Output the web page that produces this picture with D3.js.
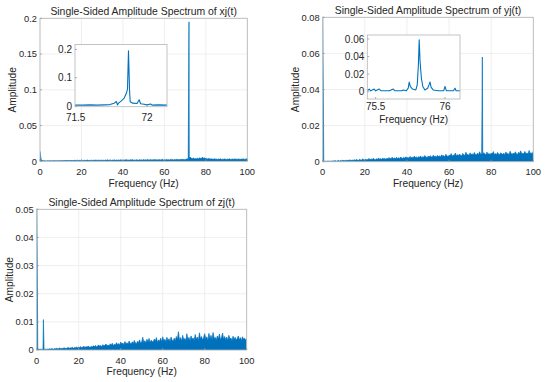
<!DOCTYPE html>
<html>
<head>
<meta charset="utf-8">
<script src="https://cdn.jsdelivr.net/npm/d3@7"></script>
<style>
  body { margin: 0; background: #fff; }
  svg { font-family: "Liberation Sans", Arial, sans-serif; }
</style>
</head>
<body>
<script>
// Spectrum bins are 0.5 Hz apart, first noise value sits at 0.5 Hz
var freqStep = 0.5;
var xTicks = [0, 20, 40, 60, 80, 100];

// xj(t)
var xjDC = 0.014;
var xjPeakFreq = [71.87];
var xjPeakAmp = [0.195];
var xjNoise = [
  .003,.0012,.0008,.0006,.0007,.0005,.0008,.0006,.0007,.0009,
  .0006,.0008,.0007,.0010,.0006,.0008,.0009,.0007,.0011,.0008,
  .0009,.0012,.0008,.0010,.0013,.0009,.0011,.0008,.0012,.0010,
  .0011,.0009,.0014,.0010,.0012,.0016,.0009,.0013,.0011,.0015,
  .0012,.0010,.0015,.0011,.0013,.0018,.0010,.0014,.0012,.0016,
  .0011,.0015,.0013,.0019,.0012,.0014,.0017,.0011,.0016,.0013,
  .0015,.0012,.0018,.0014,.0020,.0013,.0016,.0019,.0012,.0017,
  .0014,.0021,.0013,.0017,.0015,.0019,.0014,.0022,.0016,.0013,
  .0018,.0015,.0024,.0016,.0019,.0014,.0021,.0017,.0025,.0015,
  .0019,.0016,.0022,.0018,.0015,.0023,.0017,.0020,.0016,.0024,
  .0017,.0021,.0018,.0026,.0016,.0020,.0023,.0017,.0022,.0019,
  .0025,.0018,.0021,.0017,.0024,.0019,.0022,.0028,.0018,.0021,
  .0019,.0026,.0020,.0023,.0018,.0027,.0021,.0024,.0019,.0025,
  .0022,.0029,.0020,.0024,.0021,.0027,.0023,.0030,.0022,.0026,
  .0028,.0034,.0030,.0045,.0060,.0041,.0035,.0048,.0033,.0039,
  .0036,.0044,.0032,.0050,.0038,.0046,.0055,.0040,.0048,.0035,
  .0038,.0030,.0042,.0028,.0035,.0031,.0027,.0036,.0029,.0033,
  .0026,.0032,.0028,.0035,.0025,.0030,.0027,.0033,.0029,.0024,
  .0031,.0027,.0034,.0025,.0029,.0032,.0026,.0035,.0028,.0030,
  .0027,.0033,.0025,.0031,.0028,.0036,.0026,.0030,.0034,.0029
];
var xjZoomFreq = [71.495,71.55,71.60,71.65,71.70,71.74,71.77,71.785,71.793,71.80,71.82,71.84,71.855,71.863,71.870,71.877,71.882,71.90,71.93,71.945,71.955,71.98,72.00,72.025,72.035,72.08,72.14];
var xjZoomAmp  = [.003,.003,.004,.003,.004,.005,.010,.016,.004,.010,.018,.028,.045,.060,.195,.060,.015,.010,.009,.022,.008,.006,.004,.007,.003,.004,.003];

// yj(t)
var yjDC = 0.085;
var yjPeakFreq = [75.81];
var yjPeakAmp = [0.058];
var yjNoise = [
  .0003,.0002,.0003,.0002,.0004,.0003,.0002,.0004,.0003,.0005,
  .0004,.0006,.0003,.0005,.0007,.0004,.0006,.0005,.0008,.0006,
  .0007,.0005,.0009,.0006,.0008,.0010,.0006,.0009,.0007,.0011,
  .0008,.0012,.0009,.0007,.0013,.0010,.0008,.0016,.0011,.0009,
  .0014,.0010,.0012,.0018,.0011,.0015,.0012,.0019,.0013,.0011,
  .0016,.0012,.0021,.0014,.0017,.0013,.0020,.0015,.0018,.0014,
  .0019,.0015,.0023,.0016,.0018,.0025,.0017,.0021,.0016,.0024,
  .0018,.0022,.0017,.0026,.0020,.0018,.0024,.0019,.0027,.0021,
  .0023,.0019,.0029,.0022,.0025,.0020,.0031,.0023,.0026,.0021,
  .0028,.0024,.0032,.0022,.0027,.0025,.0034,.0026,.0023,.0030,
  .0026,.0033,.0028,.0024,.0036,.0027,.0031,.0025,.0035,.0029,
  .0032,.0027,.0038,.0030,.0034,.0028,.0041,.0031,.0029,.0036,
  .0033,.0045,.0030,.0037,.0034,.0048,.0032,.0039,.0035,.0042,
  .0036,.0031,.0046,.0038,.0034,.0052,.0037,.0041,.0035,.0049,
  .0038,.0044,.0036,.0051,.0040,.0037,.0047,.0039,.0055,.0041,
  .0045,.0038,.0050,.0042,.0039,.0053,.0041,.0046,.0038,.0048,
  .0042,.0056,.0040,.0045,.0039,.0051,.0043,.0038,.0049,.0044,
  .0041,.0047,.0039,.0054,.0043,.0046,.0040,.0058,.0044,.0041,
  .0048,.0042,.0055,.0043,.0040,.0052,.0045,.0060,.0042,.0047,
  .0044,.0057,.0043,.0049,.0041,.0062,.0045,.0050,.0043,.0058
];
var yjZoomFreq = [75.44,75.454,75.465,75.49,75.50,75.526,75.54,75.60,75.627,75.64,75.69,75.70,75.72,75.735,75.742,75.75,75.765,75.79,75.80,75.808,75.814,75.82,75.83,75.84,75.855,75.875,75.885,75.892,75.90,75.915,75.95,75.99,76.0,76.01,76.06,76.072,76.08,76.108];
var yjZoomAmp  = [.001,.003,.001,.003,.001,.003,.001,.001,.003,.001,.001,.002,.001,.004,.011,.006,.003,.002,.008,.030,.059,.035,.015,.006,.002,.004,.008,.011,.005,.002,.001,.001,.006,.001,.001,.004,.001,.001];

// zj(t)
var zjDC = 0.06;
var zjPeakFreq = [3.2];
var zjPeakAmp = [0.0108];
var zjNoise = [
  .0005,.0003,.0002,.0003,.0002,.0003,.0002,.0003,.0002,.0003,
  .0003,.0004,.0003,.0005,.0004,.0003,.0005,.0004,.0006,.0004,
  .0005,.0007,.0004,.0006,.0005,.0008,.0006,.0005,.0007,.0009,
  .0006,.0008,.0007,.0010,.0006,.0009,.0008,.0011,.0007,.0010,
  .0009,.0012,.0008,.0011,.0013,.0009,.0012,.0010,.0014,.0011,
  .0010,.0013,.0011,.0015,.0012,.0016,.0011,.0014,.0018,.0013,
  .0016,.0012,.0019,.0014,.0017,.0021,.0015,.0018,.0014,.0022,
  .0017,.0024,.0016,.0020,.0018,.0026,.0019,.0023,.0017,.0028,
  .0021,.0025,.0019,.0030,.0022,.0026,.0020,.0032,.0024,.0021,
  .0029,.0023,.0034,.0025,.0022,.0031,.0026,.0036,.0024,.0028,
  .0045,.0027,.0033,.0025,.0038,.0029,.0041,.0026,.0035,.0030,
  .0028,.0039,.0031,.0044,.0027,.0036,.0030,.0042,.0029,.0047,
  .0032,.0038,.0030,.0045,.0033,.0040,.0029,.0046,.0035,.0031,
  .0042,.0033,.0048,.0036,.0065,.0034,.0044,.0031,.0052,.0037,
  .0041,.0033,.0058,.0036,.0045,.0032,.0050,.0038,.0043,.0034,
  .0055,.0037,.0046,.0033,.0061,.0039,.0048,.0035,.0044,.0058,
  .0038,.0047,.0034,.0059,.0040,.0052,.0036,.0062,.0041,.0045,
  .0035,.0050,.0039,.0057,.0037,.0044,.0060,.0038,.0048,.0036,
  .0046,.0034,.0052,.0039,.0043,.0033,.0049,.0037,.0045,.0035,
  .0041,.0050,.0036,.0044,.0033,.0047,.0038,.0042,.0035,.0040
];

var lineColor = "#0072BD";
var textColor = "#262626";

var svg = d3.select("body").append("svg")
  .attr("width", 550)
  .attr("height", 382);

svg.append("rect").attr("width", 550).attr("height", 382).attr("fill", "#fff");

function buildSeries(dc, noise, peakF, peakA) {
  var pts = [{f: 0, a: dc}];
  noise.forEach(function(a, i) { pts.push({f: (i + 1) * freqStep, a: a}); });
  peakF.forEach(function(f, i) { pts.push({f: f, a: peakA[i]}); });
  pts.sort(function(p, q) { return p.f - q.f; });
  return pts;
}

function fmt(d) { return String(+d.toFixed(4)); }

var clipCount = 0;

// Draws one axes box: grid, data, ticks, labels
function drawAxes(g, cfg) {
  var x = d3.scaleLinear().domain(cfg.xDomain).range([cfg.left, cfg.right]);
  var y = d3.scaleLinear().domain(cfg.yDomain).range([cfg.bottom, cfg.top]);
  var w = cfg.right - cfg.left, h = cfg.bottom - cfg.top;

  g.append("rect")
    .attr("x", cfg.left).attr("y", cfg.top)
    .attr("width", w).attr("height", h)
    .attr("fill", "#fff");

  if (cfg.grid) {
    g.append("g").selectAll("line").data(cfg.xTicks).enter().append("line")
      .attr("x1", d => x(d)).attr("x2", d => x(d))
      .attr("y1", cfg.top).attr("y2", cfg.bottom)
      .attr("stroke", "#ebebeb").attr("stroke-width", 0.8);
    g.append("g").selectAll("line").data(cfg.yTicks).enter().append("line")
      .attr("x1", cfg.left).attr("x2", cfg.right)
      .attr("y1", d => y(d)).attr("y2", d => y(d))
      .attr("stroke", "#ebebeb").attr("stroke-width", 0.8);
  }

  var clipId = "clip" + (clipCount++);
  g.append("clipPath").attr("id", clipId).append("rect")
    .attr("x", cfg.left).attr("y", cfg.top - 0.5)
    .attr("width", w).attr("height", h + 0.5);

  var plot = g.append("g").attr("clip-path", "url(#" + clipId + ")");
  if (cfg.fill) {
    var area = d3.area().x(d => x(d.f)).y0(y(0)).y1(d => y(d.a));
    plot.append("path").datum(cfg.data)
      .attr("d", area)
      .attr("fill", lineColor);
  }
  var line = d3.line().x(d => x(d.f)).y(d => y(d.a));
  plot.append("path").datum(cfg.data)
    .attr("d", line)
    .attr("fill", "none")
    .attr("stroke", lineColor)
    .attr("stroke-width", cfg.lineWidth)
    .attr("stroke-linejoin", "round");

  // box
  g.append("rect")
    .attr("x", cfg.left).attr("y", cfg.top)
    .attr("width", w).attr("height", h)
    .attr("fill", "none")
    .attr("stroke", "#b5b5b5").attr("stroke-width", 0.8);

  // inward ticks
  g.append("g").selectAll("line").data(cfg.xTicks).enter().append("line")
    .attr("x1", d => x(d)).attr("x2", d => x(d))
    .attr("y1", cfg.bottom).attr("y2", cfg.bottom - 2)
    .attr("stroke", "#999").attr("stroke-width", 0.8);
  g.append("g").selectAll("line").data(cfg.yTicks).enter().append("line")
    .attr("x1", cfg.left).attr("x2", cfg.left + 2)
    .attr("y1", d => y(d)).attr("y2", d => y(d))
    .attr("stroke", "#999").attr("stroke-width", 0.8);

  g.append("g").selectAll("text").data(cfg.xTicks).enter().append("text")
    .attr("x", d => x(d)).attr("y", cfg.bottom + cfg.xTickOffset)
    .attr("text-anchor", "middle")
    .attr("font-size", cfg.tickSize).attr("fill", textColor)
    .text(fmt);
  g.append("g").selectAll("text").data(cfg.yTicks).enter().append("text")
    .attr("x", cfg.left - 3).attr("y", d => y(d))
    .attr("dy", "0.36em")
    .attr("text-anchor", "end")
    .attr("font-size", cfg.tickSize).attr("fill", textColor)
    .text(fmt);

  if (cfg.xLabel) {
    g.append("text")
      .attr("x", (cfg.left + cfg.right) / 2).attr("y", cfg.bottom + cfg.xLabelOffset)
      .attr("text-anchor", "middle")
      .attr("font-size", cfg.labelSize).attr("fill", textColor)
      .text(cfg.xLabel);
  }
  if (cfg.yLabel) {
    var cy = (cfg.top + cfg.bottom) / 2, cx = cfg.left - 27.3;
    g.append("text")
      .attr("transform", `translate(${cx}, ${cy}) rotate(-90)`)
      .attr("dy", "0.36em")
      .attr("text-anchor", "middle")
      .attr("font-size", cfg.labelSize).attr("fill", textColor)
      .text(cfg.yLabel);
  }
  if (cfg.title) {
    g.append("text")
      .attr("x", (cfg.left + cfg.right) / 2).attr("y", cfg.top - 3)
      .attr("text-anchor", "middle")
      .attr("font-size", 10.4).attr("fill", textColor)
      .text(cfg.title);
  }
}

var mainDefaults = {
  xDomain: [0, 100], xTicks: xTicks, grid: true, fill: true, lineWidth: 0.7,
  tickSize: 9.3, labelSize: 10.2, xTickOffset: 13.6, xLabelOffset: 25.2,
  xLabel: "Frequency (Hz)", yLabel: "Amplitude"
};
var insetDefaults = {
  grid: false, fill: false, lineWidth: 1.1, tickSize: 10, labelSize: 10,
  xLabelOffset: 23.7
};

// xj(t)
drawAxes(svg.append("g"), Object.assign({}, mainDefaults, {
  left: 40, right: 247.3, top: 18.3, bottom: 161.3,
  yDomain: [0, 0.2], yTicks: [0, 0.05, 0.1, 0.15, 0.2],
  title: "Single-Sided Amplitude Spectrum of xj(t)",
  data: buildSeries(xjDC, xjNoise, xjPeakFreq, xjPeakAmp)
}));
drawAxes(svg.append("g"), Object.assign({}, insetDefaults, {
  left: 75, right: 167, top: 44.5, bottom: 106.7,
  xDomain: [71.495, 72.14], yDomain: [-0.0025, 0.2175],
  xTicks: [71.5, 72], yTicks: [0, 0.1, 0.2], xTickOffset: 14.5,
  data: xjZoomFreq.map((f, i) => ({f: f, a: xjZoomAmp[i]}))
}));

// yj(t)
drawAxes(svg.append("g"), Object.assign({}, mainDefaults, {
  left: 322.7, right: 533.3, top: 17.3, bottom: 161.7,
  yDomain: [0, 0.08], yTicks: [0, 0.02, 0.04, 0.06, 0.08],
  title: "Single-Sided Amplitude Spectrum of yj(t)",
  data: buildSeries(yjDC, yjNoise, yjPeakFreq, yjPeakAmp)
}));
drawAxes(svg.append("g"), Object.assign({}, insetDefaults, {
  left: 367.3, right: 460, top: 35, bottom: 99,
  xDomain: [75.44, 76.108], yDomain: [-0.0083, 0.0645],
  xTicks: [75.5, 76], yTicks: [0, 0.02, 0.04, 0.06], xTickOffset: 11.3,
  xLabel: "Frequency (Hz)",
  data: yjZoomFreq.map((f, i) => ({f: f, a: yjZoomAmp[i]}))
}));

// zj(t)
drawAxes(svg.append("g"), Object.assign({}, mainDefaults, {
  left: 36.7, right: 246.7, top: 209.3, bottom: 350,
  yDomain: [0, 0.05], yTicks: [0, 0.01, 0.02, 0.03, 0.04, 0.05],
  title: "Single-Sided Amplitude Spectrum of zj(t)",
  data: buildSeries(zjDC, zjNoise, zjPeakFreq, zjPeakAmp)
}));
</script>
</body>
</html>
